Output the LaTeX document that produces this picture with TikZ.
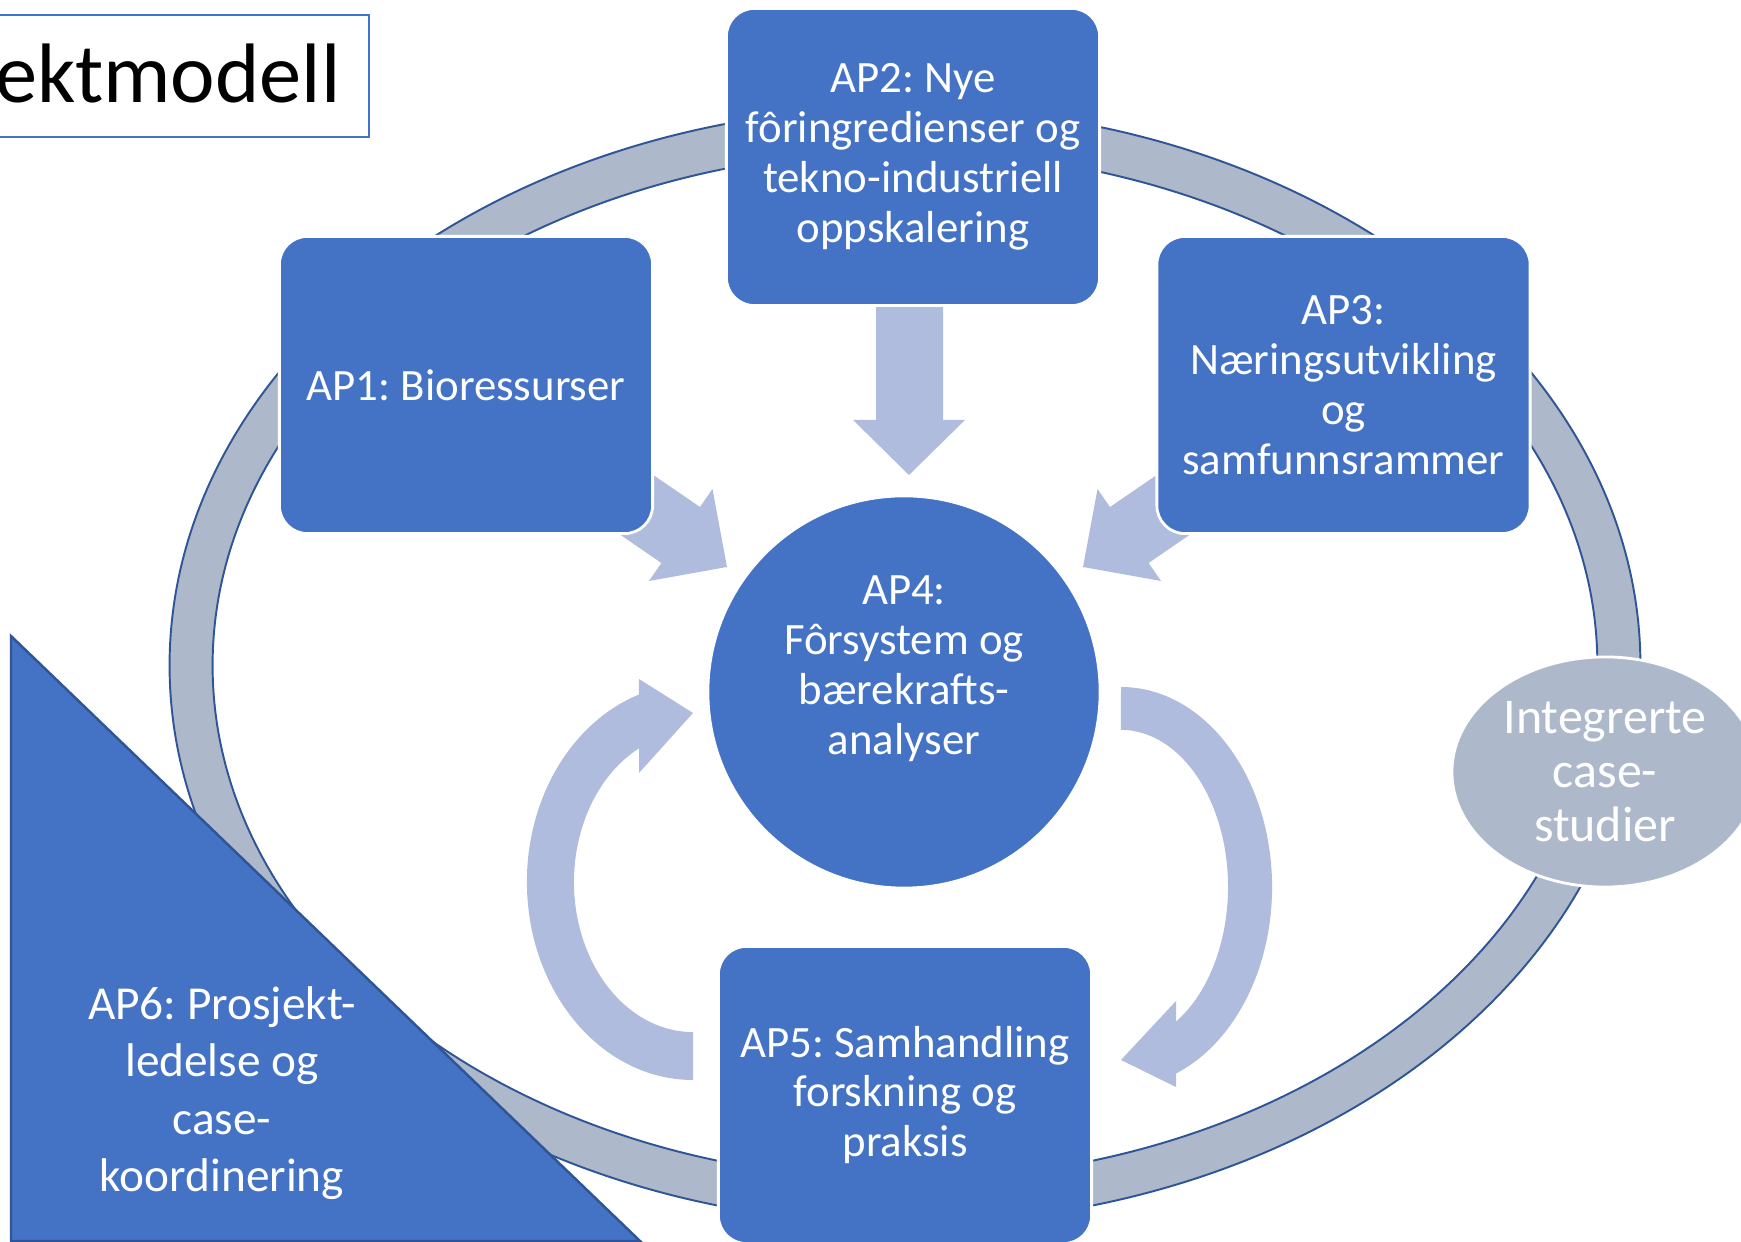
\documentclass[tikz,border=0pt]{standalone}
\usepackage{fontspec}
\setmainfont{Carlito}
\usetikzlibrary{shapes.geometric}
\frenchspacing

\definecolor{boxblue}{HTML}{4472C4}
\definecolor{ringgray}{HTML}{ADB9CA}
\definecolor{ringline}{HTML}{2F5597}
\definecolor{flowblue}{RGB}{176,188,222}

\begin{document}
\begin{tikzpicture}[x=0.01cm, y=0.01cm,
	apbox/.style={fill=boxblue, draw=white, line width=0.8pt, rounded corners=0.28cm, minimum width=3.73cm, minimum height=2.97cm, inner sep=0pt, text=white, align=center, font=\fontsize{12.75}{14.2}\selectfont},
	aptext/.style={text=white, align=center, font=\fontsize{12.75}{14.2}\selectfont},
	flow/.style={fill=flowblue}]
	\useasboundingbox (0,0) rectangle (1741,1242);
	\clip (0,0) rectangle (1741,1242);

	% ring
	\filldraw[fill=ringgray, draw=ringline, line width=0.55pt, even odd rule]
		(905,576.5) ellipse [x radius=7.35cm, y radius=5.58cm]
		(905,576.5) ellipse [x radius=6.92cm, y radius=5.14cm];

	% block arrows
	\fill[flow] (876,945) -- (876,822) -- (853,822) -- (909,767) -- (965,822) -- (943,822) -- (943,945) -- cycle;
	\fill[flow] (643,774) -- (700,735) -- (712.5,753) -- (727,675) -- (649,661) -- (661.4,679) -- (604,718.4) -- cycle;
	\fill[flow] (1167,774) -- (1110,735) -- (1097.5,753) -- (1083,675) -- (1161,661) -- (1148.6,679) -- (1206,718.4) -- cycle;
	\fill[flow] (693,162) arc[start angle=270, end angle=109, x radius=1.66cm, y radius=1.98cm]
		-- (639,563) -- (693,529) -- (639,469) -- (639,493.7)
		arc[start angle=117, end angle=270, x radius=1.19cm, y radius=1.5cm] -- cycle;
	\fill[flow] (1121,555) arc[start angle=90, end angle=-68.6, x radius=1.51cm, y radius=2cm]
		-- (1176,155) -- (1121,182) -- (1176,241) -- (1176.1,220.4)
		arc[start angle=-59, end angle=90, x radius=1.07cm, y radius=1.57cm] -- cycle;

	% work packages
	\node[apbox] (ap2) at (913,1085) {AP2: Nye\\fôringredienser og\\tekno-industriell\\oppskalering};
	\node[apbox] (ap1) at (466,857) {AP1: Bioressurser};
	\node[apbox] (ap3) at (1343.5,857) {AP3:\\Næringsutvikling\\og\\samfunnsrammer};
	\node[apbox] (ap5) at (905,147) {AP5: Samhandling\\forskning og\\praksis};
	\node[circle, fill=boxblue, draw=white, line width=0.8pt, minimum size=3.92cm, inner sep=0pt] (ap4) at (904,550) {};
	\node[aptext] (ap4text) at ([yshift=0.235cm]ap4.center) {AP4:\\Fôrsystem og\\bærekrafts-\\analyser};
	\node[ellipse, fill=ringgray, draw=white, line width=0.8pt, minimum width=3.06cm, minimum height=2.3cm, inner sep=0pt, text=white, align=center, font=\fontsize{14.2}{15.4}\selectfont] (cases) at (1605,470) {Integrerte\\case-\\studier};

	\filldraw[fill=boxblue, draw=ringline, line width=0.7pt] (11,606) -- (11,1) -- (640,1) -- cycle;
	\node[aptext, font=\fontsize{13.45}{16.3}\selectfont] (ap6) at (222,149) {AP6: Prosjekt-\\ledelse og\\case-\\koordinering};

	% title
	\draw[boxblue, line width=0.6pt, fill=white] (-10,1105) rectangle (369,1227);
	\node[anchor=base east, inner sep=0pt, font=\fontsize{24}{28}\selectfont] (title) at (341,1139) {ektmodell};
\end{tikzpicture}
\end{document}
